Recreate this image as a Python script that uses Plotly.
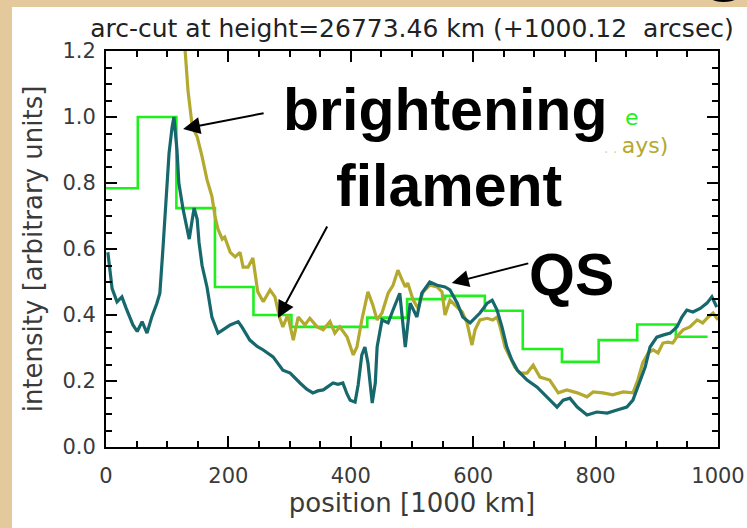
import plotly.graph_objects as go

# Arc-cut intensity profiles along the cut (position in 1000 km)
teal_x = [3, 10, 18, 26, 33, 44, 51, 59, 67, 75,
          83, 88, 93, 98, 103, 108, 111, 116, 119, 126,
          132, 136, 141, 144, 149, 152, 157, 165, 173, 183,
          191, 203, 216, 222, 235, 247, 257, 273, 289, 301,
          317, 328, 338, 346, 355, 363, 371, 379, 387, 394,
          399, 407, 412, 418, 423, 428, 435, 440, 443, 451,
          461, 469, 480, 489, 497, 508, 516, 529, 541, 554,
          562, 574, 583, 595, 611, 623, 631, 639, 647, 655,
          663, 672, 688, 704, 721, 737, 747, 758, 770, 786,
          802, 819, 835, 851, 861, 869, 881, 889, 900, 910,
          922, 933, 941, 949, 959, 971, 982, 990, 998]
teal_y = [0.59, 0.48, 0.44, 0.455, 0.42, 0.37, 0.35, 0.38, 0.345, 0.395,
          0.435, 0.466, 0.6, 0.74, 0.89, 0.97, 1.0, 0.9, 0.8, 0.72,
          0.67, 0.63, 0.69, 0.724, 0.69, 0.62, 0.55, 0.485, 0.394, 0.345,
          0.355, 0.37, 0.38, 0.364, 0.324, 0.305, 0.294, 0.273, 0.233, 0.224,
          0.194, 0.175, 0.164, 0.17, 0.173, 0.185, 0.194, 0.19, 0.194, 0.16,
          0.142, 0.136, 0.188, 0.279, 0.303, 0.255, 0.133, 0.194, 0.303, 0.385,
          0.376, 0.415, 0.466, 0.303, 0.436, 0.394, 0.466, 0.5, 0.49, 0.485,
          0.476, 0.436, 0.394, 0.376, 0.406, 0.436, 0.445, 0.415, 0.364, 0.303,
          0.264, 0.233, 0.203, 0.182, 0.152, 0.121, 0.142, 0.148, 0.121, 0.097,
          0.106, 0.103, 0.112, 0.121, 0.142, 0.182, 0.242, 0.303, 0.333, 0.339,
          0.345, 0.364, 0.394, 0.415, 0.409, 0.42, 0.436, 0.455, 0.424]

olive_x = [127, 134, 141, 149, 157, 165, 173, 178, 183, 190,
           194, 203, 211, 219, 224, 232, 240, 248, 257, 268,
           276, 284, 289, 297, 306, 314, 325, 333, 345, 355,
           366, 374, 382, 394, 404, 410, 418, 428, 436, 443,
           451, 461, 469, 477, 484, 489, 493, 502, 510, 518,
           529, 541, 549, 554, 562, 574, 582, 590, 598, 603,
           611, 623, 632, 639, 644, 652, 660, 668, 676, 688,
           698, 709, 725, 739, 753, 770, 786, 796, 812, 828,
           845, 861, 869, 877, 886, 894, 902, 910, 918, 926,
           935, 943, 954, 966, 975, 984, 992, 1000]
olive_y = [1.26, 1.08, 0.97, 0.94, 0.88, 0.81, 0.76, 0.70, 0.66, 0.63,
           0.636, 0.59, 0.576, 0.59, 0.545, 0.545, 0.573, 0.47, 0.44, 0.476,
           0.455, 0.39, 0.364, 0.40, 0.324, 0.394, 0.37, 0.39, 0.364, 0.355,
           0.38, 0.345, 0.364, 0.333, 0.279, 0.303, 0.385, 0.47, 0.43, 0.385,
           0.406, 0.466, 0.49, 0.536, 0.506, 0.485, 0.497, 0.445, 0.42, 0.47,
           0.49, 0.485, 0.47, 0.40, 0.445, 0.424, 0.409, 0.376, 0.309, 0.355,
           0.385, 0.39, 0.385, 0.394, 0.364, 0.303, 0.273, 0.242, 0.224, 0.224,
           0.248, 0.212, 0.203, 0.164, 0.173, 0.164, 0.152, 0.167, 0.164, 0.158,
           0.167, 0.164, 0.203, 0.255, 0.285, 0.294, 0.285, 0.315, 0.318, 0.315,
           0.339, 0.355, 0.364, 0.385, 0.376, 0.394, 0.406, 0.385]

# Binned profile: bin edges and one value per bin
green_edges = [0, 52, 115, 178, 241, 303, 365, 427, 492, 554,
               619, 681, 745, 805, 868, 931, 983]
green_vals = [0.784, 1.0, 0.724, 0.485, 0.40, 0.364, 0.364, 0.392, 0.448,
              0.458, 0.413, 0.297, 0.258, 0.324, 0.371, 0.334]

x_ticks = [0, 200, 400, 600, 800, 1000]
y_ticks = [0.0, 0.2, 0.4, 0.6, 0.8, 1.0, 1.2]

TEAL = "#17686d"
OLIVE = "#b3a92e"
GREEN = "#1ef01e"
PARCHMENT = "#e3c99c"
TICK_FONT = dict(family="DejaVu Sans", size=21, color="#3a3a3a")
TITLE_FONT = dict(family="DejaVu Sans", size=26, color="#3a3a3a")

fig = go.Figure()

fig.add_trace(go.Scatter(
    x=green_edges, y=green_vals + [green_vals[-1]],
    mode="lines", line=dict(color=GREEN, width=2.6, shape="hv"),
    hoverinfo="skip", showlegend=False))
fig.add_trace(go.Scatter(
    x=olive_x, y=olive_y, mode="lines",
    line=dict(color=OLIVE, width=3.2), showlegend=False))
fig.add_trace(go.Scatter(
    x=teal_x, y=teal_y, mode="lines",
    line=dict(color=TEAL, width=3.2), showlegend=False))

axis_common = dict(
    showline=True, linecolor="black", linewidth=2, mirror="allticks",
    ticks="inside", ticklen=11, tickwidth=1.5, tickcolor="black",
    showgrid=False, zeroline=False, tickfont=TICK_FONT, automargin=False,
)

fig.update_xaxes(
    range=[0, 1000], tickvals=x_ticks,
    ticktext=[str(v) for v in x_ticks],
    minor=dict(dtick=50, ticks="inside", ticklen=6, tickwidth=1.5,
               tickcolor="black", showgrid=False),
    title=dict(text="position [1000 km]", font=TITLE_FONT, standoff=4),
    ticklabelstandoff=9,
    **axis_common)
fig.update_yaxes(
    range=[0, 1.2], tickvals=y_ticks,
    ticktext=[f"{v:.1f}" for v in y_ticks],
    minor=dict(dtick=0.05, ticks="inside", ticklen=6, tickwidth=1.5,
               tickcolor="black", showgrid=False),
    title=dict(text="intensity [arbitrary units]", font=TITLE_FONT, standoff=12),
    ticklabelstandoff=4,
    **axis_common)

# white page panel on the parchment backdrop
fig.add_shape(type="rect", xref="paper", yref="paper",
              x0=-0.1536, x1=1.08, y0=-0.25, y1=1.111,
              fillcolor="white", line=dict(width=0), layer="below")

big = dict(family="Liberation Sans, Arial, sans-serif", size=59, color="black")
fig.add_annotation(x=554, y=1.02, xref="x", yref="y", text="<b>brightening</b>",
                   showarrow=False, font=big, yanchor="middle")
fig.add_annotation(x=560, y=0.79, xref="x", yref="y", text="<b>filament</b>",
                   showarrow=False, font=big, yanchor="middle")
fig.add_annotation(x=761, y=0.52, xref="x", yref="y", text="<b>QS</b>",
                   showarrow=False, font=big, yanchor="middle")

arrow = dict(showarrow=True, arrowhead=2, arrowsize=1.7, arrowwidth=2,
             arrowcolor="black", text="", xref="x", yref="y",
             axref="pixel", ayref="pixel")
fig.add_annotation(x=126, y=0.964, ax=82, ay=-16, **arrow)
fig.add_annotation(x=281, y=0.391, ax=50, ay=-93, **arrow)
fig.add_annotation(x=565, y=0.497, ax=78, ay=-20, **arrow)

# partly hidden legend entries
fig.add_annotation(x=860, y=1.0, xref="x", yref="y", text="e",
                   showarrow=False,
                   font=dict(family="DejaVu Sans", size=22, color="#22ee22"))
fig.add_annotation(x=921, y=0.915, xref="x", yref="y", xanchor="right",
                   text="<span style='color:#dcd6a4;font-size:14px'>. . </span>ays)",
                   showarrow=False,
                   font=dict(family="DejaVu Sans", size=22, color=OLIVE))

# descender of the slide heading above the panel
fig.add_annotation(x=1.011, y=1.119, xref="paper", yref="paper", text="<b>g</b>",
                   showarrow=False, yanchor="bottom", xanchor="center",
                   font=dict(family="Liberation Sans, Arial", size=80, color="black"))

fig.update_layout(
    width=747, height=528,
    margin=dict(l=106, r=29, t=51, b=81),
    paper_bgcolor=PARCHMENT, plot_bgcolor="white",
    title=dict(text="arc-cut at height=26773.46 km (+1000.12  arcsec)",
               x=0.5, xref="paper", y=1 - 28 / 528, yanchor="middle",
               font=dict(family="DejaVu Sans", size=25, color="#222222")),
)

fig.write_html("out.html")
